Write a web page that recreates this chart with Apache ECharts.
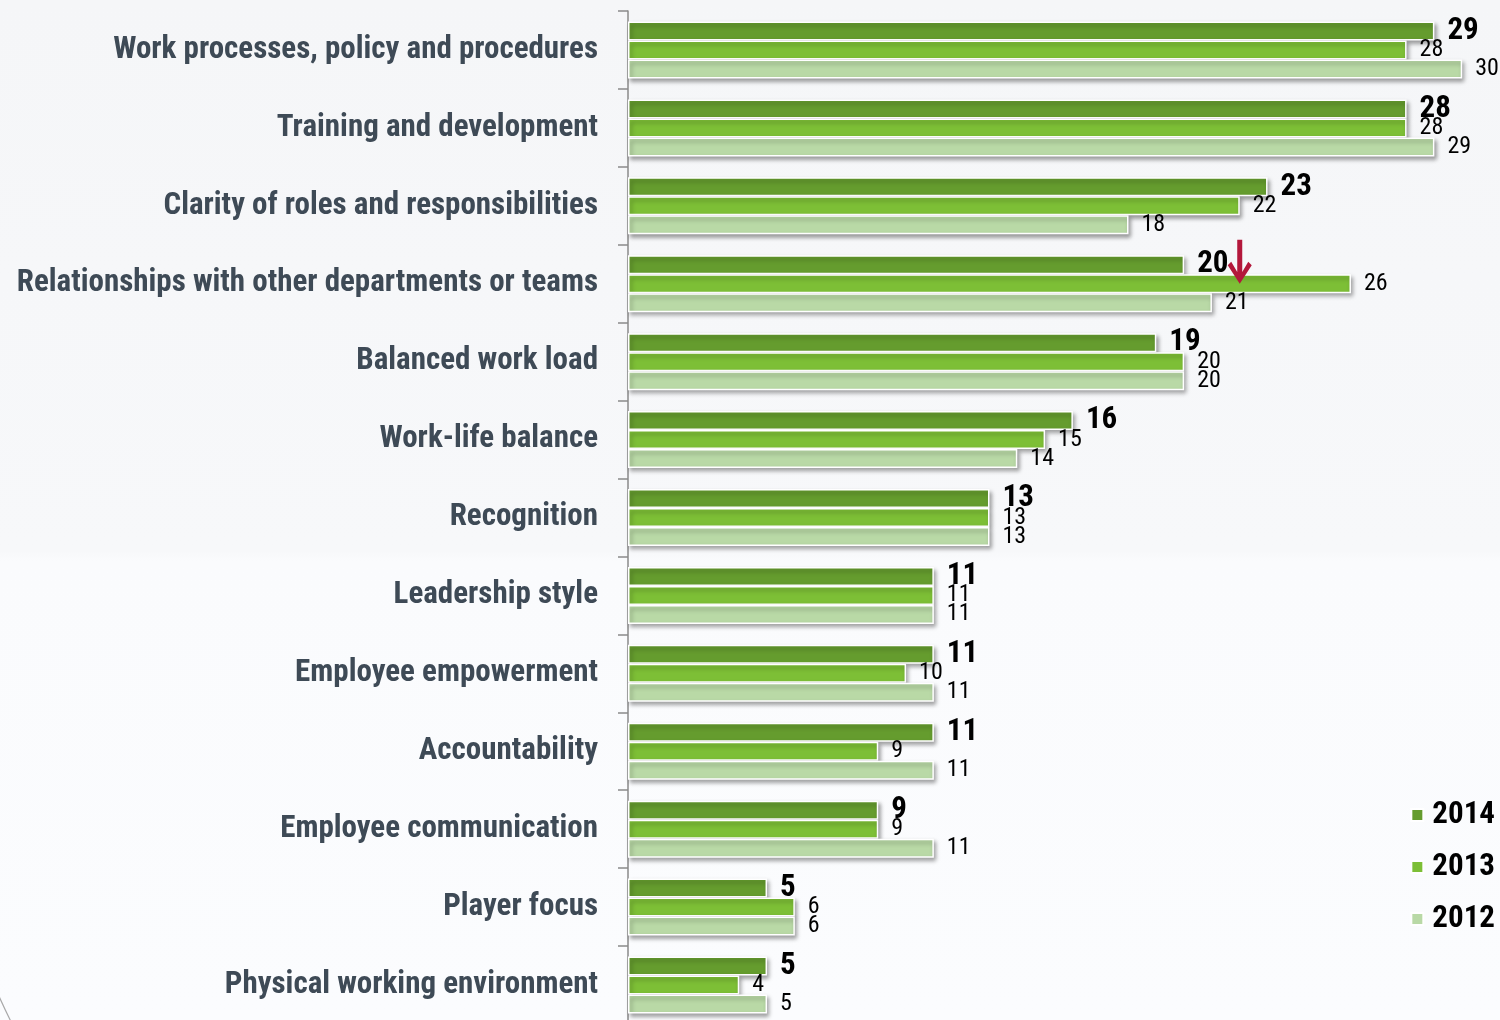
<!DOCTYPE html>
<html>
<head>
<meta charset="utf-8">
<script src="https://cdn.jsdelivr.net/npm/echarts@6/dist/echarts.min.js"></script>
<style>
  html, body { margin: 0; padding: 0; }
  #chart { width: 1500px; height: 1020px; }
</style>
</head>
<body>
<div id="chart"></div>
<script>
// Survey themes, top to bottom
const categories = [
  'Work processes, policy and procedures',
  'Training and development',
  'Clarity of roles and responsibilities',
  'Relationships with other departments or teams',
  'Balanced work load',
  'Work-life balance',
  'Recognition',
  'Leadership style',
  'Employee empowerment',
  'Accountability',
  'Employee communication',
  'Player focus',
  'Physical working environment'
];

const values2014 = [29, 28, 23, 20, 19, 16, 13, 11, 11, 11, 9, 5, 5];
const values2013 = [28, 28, 22, 26, 20, 15, 13, 11, 10, 9, 9, 6, 4];
const values2012 = [30, 29, 18, 21, 20, 14, 13, 11, 11, 11, 11, 6, 5];

const yearNames = ['2014', '2013', '2012'];

// Downward arrow flagging the drop in "Relationships" since 2013
const dropMarker = { category: 'Relationships with other departments or teams', value: 22 };

const FONT = '"Roboto Condensed", "Open Sans", sans-serif';
const COLORS = ['#659c2e', '#7dbf36', '#b9d9a6'];

const chart = echarts.init(document.getElementById('chart'));

function barSeries(name, data, color, bold) {
  return {
    name: name,
    type: 'bar',
    data: data,
    barWidth: 19,
    barGap: '0%',
    itemStyle: {
      color: color,
      borderColor: '#ffffff',
      borderWidth: 1.5,
      shadowColor: 'rgba(0,0,0,0.35)',
      shadowBlur: 4,
      shadowOffsetX: 2,
      shadowOffsetY: 3
    },
    label: {
      show: true,
      position: 'right',
      distance: 13,
      fontFamily: FONT,
      fontSize: bold ? 31 : 24,
      fontWeight: bold ? 'bold' : 'normal',
      color: '#000',
      padding: bold ? [0, 0, 0, 0] : [3, 0, 0, 0]
    },
    emphasis: { disabled: true },
    animation: false
  };
}

const s2014 = barSeries(yearNames[0], values2014, COLORS[0], true);
const s2013 = barSeries(yearNames[1], values2013, COLORS[1], false);
const s2012 = barSeries(yearNames[2], values2012, COLORS[2], false);

s2013.markPoint = {
  silent: true,
  symbol: 'path://M9.5,0 L14.5,0 L14.5,33 L20.5,22.5 L24,26 L12,45 L0,26 L3.5,22.5 L9.5,33 Z',
  symbolSize: [24, 44],
  symbolOffset: [0, '-50%'],
  itemStyle: { color: '#b3173b', shadowBlur: 0 },
  label: { show: false },
  data: [{ coord: [dropMarker.value, dropMarker.category] }]
};

chart.setOption({
  backgroundColor: {
    type: 'linear', x: 0, y: 0, x2: 0, y2: 1,
    colorStops: [
      { offset: 0, color: '#f5f6f8' },
      { offset: 0.54, color: '#f7f8fa' },
      { offset: 0.55, color: '#fafbfd' },
      { offset: 1, color: '#fbfcfe' }
    ]
  },
  animation: false,
  grid: {
    left: 628, right: 10, top: 11, height: 1013,
    containLabel: false,
    outerBoundsMode: 'none'
  },
  legend: {
    orient: 'vertical',
    right: 0,
    top: 794,
    itemWidth: 12,
    itemHeight: 12,
    itemGap: 20,
    icon: 'rect',
    textStyle: {
      fontFamily: FONT, fontSize: 31, fontWeight: 'bold', color: '#000',
      lineHeight: 30, padding: [2, 0, 0, 4]
    },
    data: yearNames
  },
  xAxis: {
    type: 'value',
    min: 0,
    max: 31,
    show: false
  },
  yAxis: {
    type: 'category',
    data: categories,
    inverse: true,
    axisLine: { show: true, lineStyle: { color: '#8a8a8a', width: 1.5 } },
    axisTick: { show: true, length: 10, lineStyle: { color: '#8a8a8a', width: 1.5 } },
    axisLabel: {
      margin: 30,
      fontFamily: FONT,
      fontSize: 31,
      fontWeight: 'bold',
      color: '#3e4a56',
      lineHeight: 36,
      verticalAlign: 'middle',
      padding: [5, 0, 0, 0]
    }
  },
  graphic: [{
    type: 'arc',
    silent: true,
    shape: { cx: 547, cy: 752, r: 600, startAngle: 2.66, endAngle: 2.75 },
    style: { fill: 'none', stroke: '#a8a8a8', lineWidth: 1.2 },
    z: -1
  }],
  series: [s2014, s2013, s2012]
});
</script>
</body>
</html>
